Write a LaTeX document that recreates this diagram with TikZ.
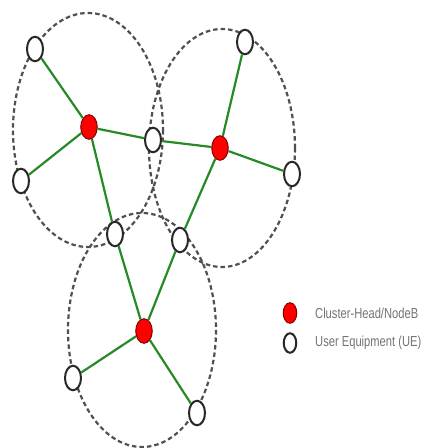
\documentclass[tikz,border=0pt]{standalone}
\usepackage{fontspec}
\newfontfamily\legfont[FakeStretch=0.77]{Liberation Sans}
\usetikzlibrary{shapes.geometric}
\definecolor{linkgreen}{RGB}{38,138,38}
\definecolor{dashgray}{RGB}{80,80,80}
\definecolor{uegray}{RGB}{40,40,40}
\definecolor{legtext}{RGB}{115,115,115}
\tikzset{
  ue/.style={ellipse, draw=uegray, fill=white, line width=2pt, minimum width=16pt, minimum height=24.5pt, inner sep=0pt},
  ch/.style={ellipse, draw=red!50!black, fill=red, line width=1pt, minimum width=16.5pt, minimum height=24.5pt, inner sep=0pt},
  link/.style={draw=linkgreen, line width=2.2pt},
  cluster/.style={draw=dashgray, line width=2.2pt, dash pattern=on 4.5pt off 3pt},
  legtxt/.style={anchor=west, inner sep=0pt, text=legtext, font=\legfont\fontsize{14.5}{16}\selectfont}
}
\begin{document}
\begin{tikzpicture}[x=1pt,y=-1pt]
\useasboundingbox (0,0) rectangle (424,448);
% cluster boundaries
\draw[cluster] (88,130) ellipse [x radius=75, y radius=117];
\draw[cluster] (222,148) ellipse [x radius=73, y radius=119];
\draw[cluster] (142,330) ellipse [x radius=74, y radius=117];
% nodes
\node[ch] (c1) at (89,127) {};
\node[ch] (c2) at (220,148) {};
\node[ch] (c3) at (144,331) {};
\node[ue] (u1) at (35,49) {};
\node[ue] (u2) at (21,181) {};
\node[ue] (u3) at (153,140) {};
\node[ue] (u4) at (245,42) {};
\node[ue] (u5) at (292,174) {};
\node[ue] (u6) at (115,234) {};
\node[ue] (u7) at (180,240) {};
\node[ue] (u8) at (73,378) {};
\node[ue] (u9) at (197,413) {};
% links
\path[link] (c1) -- (u1);
\path[link] (c1) -- (u2);
\path[link] (c1) -- (u3);
\path[link] (c1) -- (u6);
\path[link] (u3) -- (c2);
\path[link] (c2) -- (u4);
\path[link] (c2) -- (u5);
\path[link] (c2) -- (u7);
\path[link] (c3) -- (u6);
\path[link] (c3) -- (u7);
\path[link] (c3) -- (u8);
\path[link] (c3) -- (u9);
% legend
\node[ch, minimum width=13.5pt, minimum height=20.5pt] (lch) at (290,313) {};
\node[ue, minimum width=12.5pt, minimum height=19.5pt] (lue) at (290,343) {};
\node[legtxt] (tch) at (315,313) {Cluster-Head/NodeB};
\node[legtxt] (tue) at (315,343) {User Equipment (UE)};
\end{tikzpicture}
\end{document}
